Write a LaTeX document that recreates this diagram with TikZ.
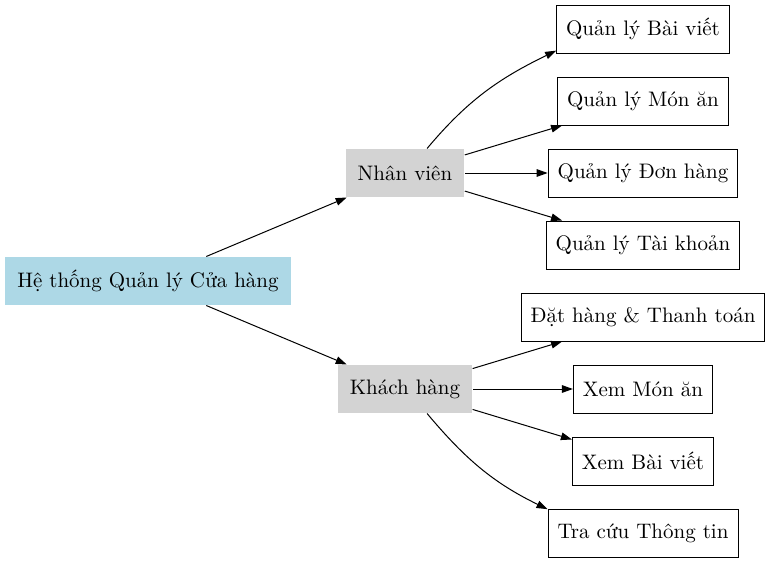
\documentclass[tikz,border=0pt]{standalone}
\usepackage{tikz}
\usetikzlibrary{positioning,arrows.meta}
\definecolor{rootblue}{HTML}{ADD8E6}
\definecolor{rolegray}{HTML}{D3D3D3}

\begin{document}
\begin{tikzpicture} [
	text centered,
	node distance=11.5pt,
	line width=0.5pt,
	font=\fontsize{10.5}{12.6}\selectfont,
	>={Triangle[length=5.5pt,width=3.8pt]},
	nroot/.style={
		rectangle,minimum height=24pt,inner xsep=6pt,
		fill=rootblue
	},
	nrole/.style={
		rectangle,minimum height=24pt,inner xsep=6pt,
		fill=rolegray
	},
	ntask/.style={
		rectangle,minimum height=24pt,inner xsep=4.75pt,
		draw=black
	}
]
\useasboundingbox (-74pt,-141pt) rectangle (312pt,140.5pt);
\node [nroot]	(system) at (0,0)			{Hệ thống Quản lý Cửa hàng};
\node [nrole]	(nhanvien) at (128.5pt,54pt)	{Nhân viên}
	edge [<-]	(system);
\node [nrole]	(khachhang) at (128.5pt,-54pt)	{Khách hàng}
	edge [<-]	(system);
\node [ntask]	(qlbaiviet) at (247.5pt,126pt)	{Quản lý Bài viết};
\node [ntask]	(qlmonan)[below=of qlbaiviet]		{Quản lý Món ăn}
	edge [<-]	(nhanvien);
\node [ntask]	(qldonhang)[below=of qlmonan]		{Quản lý Đơn hàng}
	edge [<-]	(nhanvien);
\node [ntask]	(qltaikhoan)[below=of qldonhang]	{Quản lý Tài khoản}
	edge [<-]	(nhanvien);
\node [ntask]	(dathang)[below=of qltaikhoan]	{Đặt hàng \& Thanh toán}
	edge [<-]	(khachhang);
\node [ntask]	(xemmonan)[below=of dathang]		{Xem Món ăn}
	edge [<-]	(khachhang);
\node [ntask]	(xembaiviet)[below=of xemmonan]	{Xem Bài viết}
	edge [<-]	(khachhang);
\node [ntask]	(tracuu)[below=of xembaiviet]		{Tra cứu Thông tin};
\draw [->] (nhanvien.48) to [out=50,in=206] (qlbaiviet.194);
\draw [->] (khachhang.-48) to [out=-50,in=154] (tracuu.166);
\end{tikzpicture}
\end{document}
